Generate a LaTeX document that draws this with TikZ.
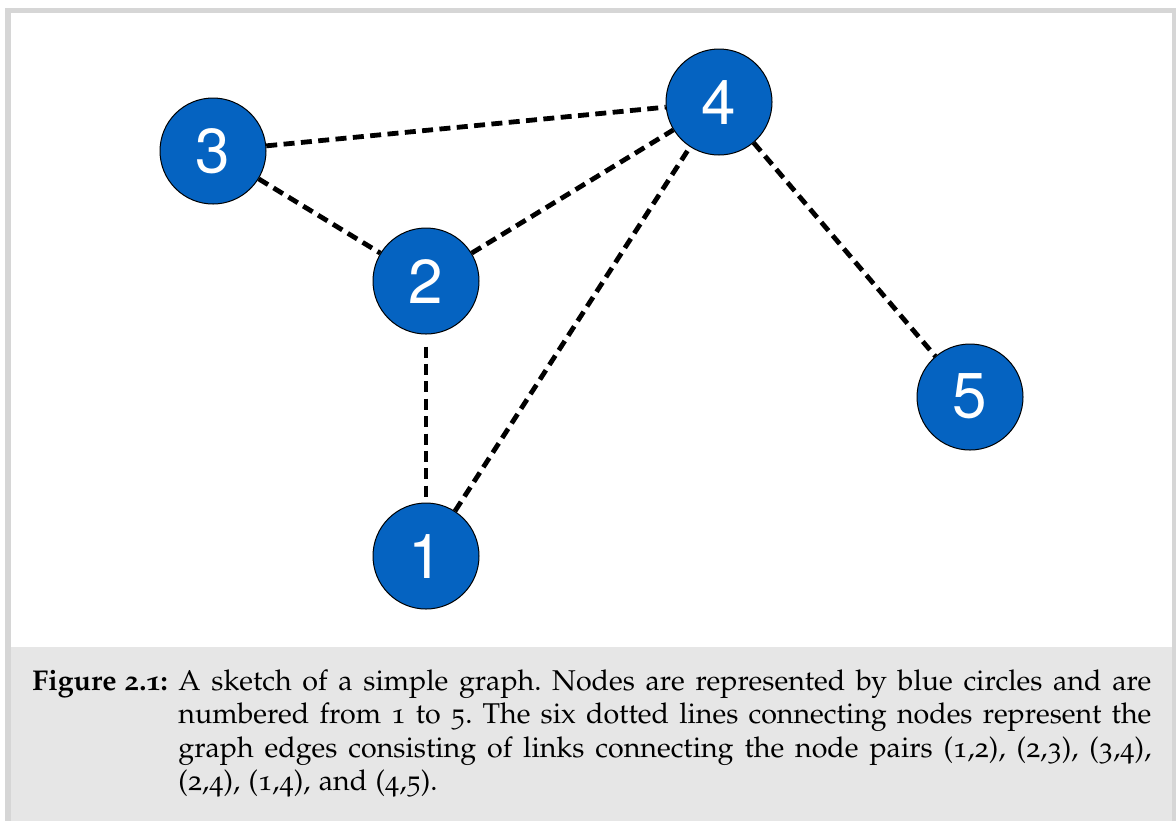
\documentclass[tikz,border=0pt]{standalone}
\usepackage[T1]{fontenc}
\usepackage[osf]{mathpazo}
\usepackage{tikz}
\definecolor{nodeblue}{RGB}{5,99,193}
\definecolor{framegray}{RGB}{214,214,214}
\definecolor{capgray}{RGB}{230,230,230}
\tikzset{
	vertex/.style={circle, draw=black, line width=0.5pt, fill=nodeblue, minimum size=53pt, inner sep=0pt, text=white, font=\fontfamily{phv}\fontsize{31}{36}\selectfont},
	link/.style={line width=2.4pt, dash pattern=on 5.5pt off 3.2pt},
	captext/.style={anchor=base west, inner sep=0pt, font=\fontsize{14.3}{16.75}\selectfont},
}

\begin{document}
\begin{tikzpicture}[x=0.5pt, y=-0.5pt]
			%%%%% START %%%%%
			\useasboundingbox (0, 0) rectangle (1176, 821);
			
			\fill[framegray] (5, 8) rectangle (1176, 821);
			\fill[white] (11, 13) rectangle (1172, 647);
			\fill[capgray] (11, 647) rectangle (1172, 821);
			
			\node[vertex] (n3) at (213, 151) {3};
			\node[vertex] (n4) at (719, 102) {4};
			\node[vertex] (n2) at (426, 281) {2};
			\node[vertex] (n5) at (970, 397) {5};
			\node[vertex] (n1) at (426, 556) {1};
			
			\draw[link] (n3) -- (n4);
			\draw[link] (n3) -- (n2);
			\draw[link] (n2) -- (n4);
			\draw[link, shorten <=6pt] (n2) -- (n1);
			\draw[link] (n1) -- (n4);
			\draw[link] (n4) -- (n5);
			
			\node[captext] (figlabel) at (32, 690) {\textbf{Figure 2.1:}};
			\node[captext] (figtext) at (178, 690) {\parbox[t]{486.5pt}{\frenchspacing A sketch of a simple graph. Nodes are represented by blue circles and are\linebreak numbered from 1 to 5. The six dotted lines connecting nodes represent the\linebreak graph edges consisting of links connecting the node pairs (1,2), (2,3), (3,4),\linebreak (2,4), (1,4), and (4,5).}};
			
			%%%%% END %%%%%
\end{tikzpicture}
\end{document}
